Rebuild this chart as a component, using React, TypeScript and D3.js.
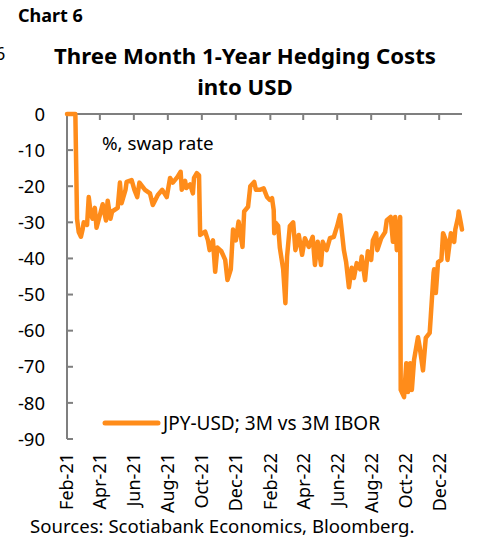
import React from "react";
import * as d3 from "d3";

const seriesName = "JPY-USD; 3M vs 3M IBOR";
const dates: string[] = [
  "2021-02-01","2021-02-16","2021-02-19","2021-02-22","2021-02-26","2021-03-01","2021-03-03","2021-03-09","2021-03-12","2021-03-16",
  "2021-03-19","2021-03-23","2021-03-26","2021-04-01","2021-04-06","2021-04-12","2021-04-15","2021-04-20","2021-04-23","2021-05-03",
  "2021-05-07","2021-05-10","2021-05-17","2021-05-19","2021-05-28","2021-06-02","2021-06-07","2021-06-11","2021-06-21","2021-06-30",
  "2021-07-05","2021-07-14","2021-07-22","2021-07-30","2021-08-05","2021-08-10","2021-08-18","2021-08-24","2021-08-26","2021-09-01",
  "2021-09-03","2021-09-10","2021-09-15","2021-09-17","2021-09-22","2021-09-26","2021-09-28","2021-10-07","2021-10-12","2021-10-15",
  "2021-10-21","2021-10-25","2021-10-29","2021-11-05","2021-11-12","2021-11-16","2021-11-22","2021-11-26","2021-12-01","2021-12-06",
  "2021-12-13","2021-12-16","2021-12-23","2021-12-27","2022-01-03","2022-01-06","2022-01-13","2022-01-20","2022-01-26","2022-01-31",
  "2022-02-04","2022-02-07","2022-02-08","2022-02-11","2022-02-15","2022-02-18","2022-02-24","2022-02-28","2022-03-03","2022-03-08",
  "2022-03-14","2022-03-18","2022-03-24","2022-03-30","2022-04-04","2022-04-11","2022-04-18","2022-04-22","2022-04-27","2022-05-03",
  "2022-05-06","2022-05-13","2022-05-19","2022-05-26","2022-06-01","2022-06-06","2022-06-08","2022-06-13","2022-06-17","2022-06-22",
  "2022-06-27","2022-07-01","2022-07-06","2022-07-12","2022-07-15","2022-07-21","2022-07-26","2022-08-01","2022-08-04","2022-08-10",
  "2022-08-12","2022-08-19","2022-08-26","2022-08-29","2022-09-05","2022-09-09","2022-09-13","2022-09-16","2022-09-22","2022-09-23",
  "2022-09-29","2022-10-03","2022-10-06","2022-10-10","2022-10-13","2022-10-17","2022-10-24","2022-10-27","2022-11-02","2022-11-07",
  "2022-11-14","2022-11-16","2022-11-21","2022-11-22","2022-11-25","2022-11-29","2022-12-05","2022-12-08","2022-12-13","2022-12-16",
  "2022-12-22","2022-12-28","2022-12-30","2023-01-04","2023-01-05","2023-01-09","2023-01-11"
];
const values: number[] = [
  0,0,-29,-32.7,-34,-32,-30,-30.7,-23,-28,
  -29,-26,-31.5,-28,-25,-29.5,-24,-29,-27,-26,
  -19,-24.7,-21,-18.8,-18.3,-21,-23,-19,-21,-22,
  -25.2,-22.4,-21,-23,-17.7,-19,-17.5,-16,-21,-18.5,
  -20.5,-19.5,-22,-17.7,-16.4,-17,-33.5,-32.6,-35,-37.7,
  -35,-43.7,-37,-38,-40.4,-46,-43,-32,-35,-29.8,
  -36.8,-27,-25.7,-20,-18.8,-21,-21,-20.6,-23,-23.8,
  -23.3,-26.6,-33,-30.2,-31,-37,-43,-52.4,-39.5,-31,
  -30,-37.7,-33.5,-39,-34.4,-36.8,-34,-41.8,-35.4,-41.8,
  -35.4,-37.7,-34.4,-34,-31,-28,-30.7,-37.7,-41,-48,
  -42.6,-45.4,-41.3,-43,-39.5,-46,-38,-40.4,-35,-33,
  -37.7,-34.4,-32.7,-29.4,-28.5,-35.4,-28.5,-37.7,-28.5,-76.4,
  -78.4,-69,-77,-69,-76.4,-68,-61.8,-64.5,-71,-62,
  -60.6,-56,-44,-43,-49.6,-41,-40.4,-33,-35,-40.4,
  -33,-35.4,-32,-28.5,-27,-30.2,-32
];
const yTicks: number[] = [0, -10, -20, -30, -40, -50, -60, -70, -80, -90];
const xTickLabels: string[] = ["Feb-21","Apr-21","Jun-21","Aug-21","Oct-21","Dec-21","Feb-22","Apr-22","Jun-22","Aug-22","Oct-22","Dec-22"];
const xDomain: string[] = ["2021-02-01", "2023-01-11"];

const FONT = "'Noto Sans', 'Open Sans', sans-serif";
const AXIS = "#7f7f7f";
const ORANGE = "#ff8c1a";

export default function App() {
  const parse = d3.timeParse("%Y-%m-%d");
  const parseTick = d3.timeParse("%b-%y");
  const data = dates.map((d, i) => ({ date: parse(d) as Date, value: values[i] }));
  const x = d3.scaleTime().domain(xDomain.map((d) => parse(d) as Date)).range([67, 462]);
  const y = d3.scaleLinear().domain([-90, 0]).range([439, 114]);
  const line = d3.line<{ date: Date; value: number }>().x((d) => x(d.date)).y((d) => y(d.value));

  return (
    <svg width={478} height={542} style={{ position: "absolute", left: 0, top: 0, background: "#fff" }} fontFamily={FONT}>
      <rect width={478} height={542} fill="#fff" />
      <text x={18} y={22} fontSize={18} fontWeight={700} fill="#000">Chart 6</text>
      <text x={-5} y={60} fontSize={18} fill="#000">6</text>
      <text x={245} y={64} fontSize={22.2} fontWeight={700} textAnchor="middle" fill="#000">Three Month 1-Year Hedging Costs</text>
      <text x={245} y={95} fontSize={22.2} fontWeight={700} textAnchor="middle" fill="#000">into USD</text>

      {/* y axis */}
      <line x1={x.range()[0]} x2={x.range()[0]} y1={y(0)} y2={y(-90)} stroke={AXIS} strokeWidth={2} />
      {yTicks.map((t) => (
        <g key={t}>
          <line x1={x.range()[0]} x2={x.range()[0] + 6} y1={y(t)} y2={y(t)} stroke={AXIS} strokeWidth={2} />
          <text x={45} y={y(t)} dy="0.36em" textAnchor="end" fontSize={18.5} fill="#000">{t}</text>
        </g>
      ))}

      {/* x axis at zero */}
      <line x1={x.range()[0]} x2={x.range()[1]} y1={y(0)} y2={y(0)} stroke={AXIS} strokeWidth={2} />
      {xTickLabels.map((lab) => {
        const xp = x(parseTick(lab) as Date);
        return (
          <g key={lab}>
            <line x1={xp} x2={xp} y1={y(0)} y2={y(0) + 6} stroke={AXIS} strokeWidth={2} />
            <text transform={`translate(${xp},453) rotate(-90)`} dy="0.36em" textAnchor="end" fontSize={18} fill="#000">{lab}</text>
          </g>
        );
      })}

      <path d={line(data) || ""} fill="none" stroke={ORANGE} strokeWidth={4.5} strokeLinejoin="round" strokeLinecap="round" />

      <text x={102} y={150} fontSize={18.8} fill="#000">%, swap rate</text>

      {/* legend */}
      <line x1={105} x2={158} y1={423} y2={423} stroke={ORANGE} strokeWidth={5} strokeLinecap="round" />
      <text x={163} y={430} fontSize={19} fill="#000">{seriesName}</text>

      <text x={30} y={533} fontSize={18.6} fill="#000">Sources: Scotiabank Economics, Bloomberg.</text>
    </svg>
  );
}
